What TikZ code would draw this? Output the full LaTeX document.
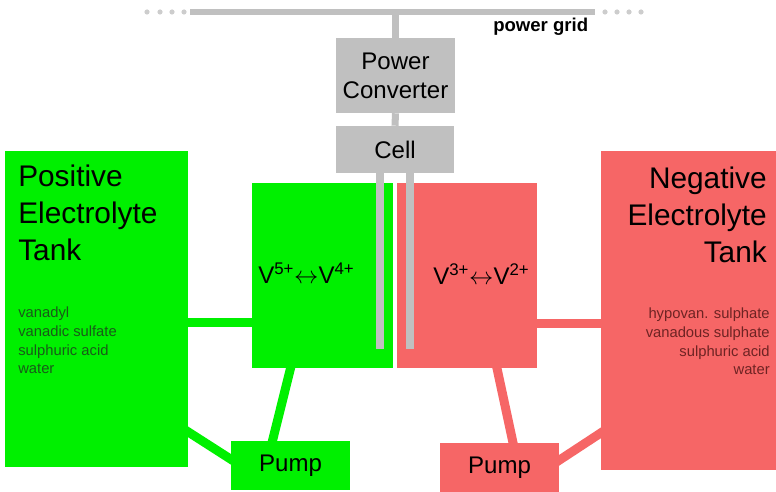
\documentclass[tikz,border=0pt]{standalone}
\usepackage{fontspec}
\setmainfont{Liberation Sans}
\usepackage{tikz}
\usetikzlibrary{backgrounds}

\definecolor{posgreen}{RGB}{0,240,0}
\definecolor{negred}{RGB}{246,102,102}
\definecolor{boxgray}{RGB}{192,192,192}
\definecolor{dotgray}{RGB}{205,205,205}
\definecolor{posdark}{RGB}{25,90,25}
\definecolor{negdark}{RGB}{110,35,35}

\begin{document}
\begin{tikzpicture}[
				x=0.025cm, y=-0.025cm,
				gray box/.style={
					fill=boxgray,
					inner sep=0pt,
					align=center,
					font=\fontsize{17.1}{20.6}\selectfont
				},
				pos box/.style={fill=posgreen, inner sep=0pt},
				neg box/.style={fill=negred, inner sep=0pt},
				pump box/.style={
					inner sep=0pt,
					minimum width=2.95cm,
					minimum height=1.225cm,
					font=\fontsize{17.1}{20.6}\selectfont
				},
				title text/.style={inner sep=0pt, font=\fontsize{21.2}{26.3}\selectfont},
				list text/.style={inner sep=0pt, font=\fontsize{10.5}{13.2}\selectfont},
				ion text/.style={inner sep=0pt, anchor=base west, font=\fontsize{17.1}{20.6}\selectfont},
				grid line/.style={draw=boxgray, line width=3.6pt},
				wire/.style={draw=boxgray, line width=5pt},
				electrode/.style={draw=boxgray, line width=5pt},
				pos pipe/.style={draw=posgreen, line width=6.4pt, line cap=rect},
				neg pipe/.style={draw=negred, line width=6.4pt, line cap=rect}
				]
				
				\useasboundingbox (0,0) rectangle (776,492);
				
				% grid, converter and cell
				\coordinate (gridL) at (190,12);
				\coordinate (gridR) at (595,12);
				\node[anchor=base west, inner sep=0pt, font=\bfseries\fontsize{13.2}{15}\selectfont] (gridlabel) at (493,32) {power grid};
				
				\node[gray box, minimum width=2.975cm, minimum height=1.875cm] (conv) at (395.5,75.5)
				{Power\\Converter};
				\node[gray box, minimum width=2.95cm, minimum height=1.175cm] (cell) at (395,149.5)
				{Cell};
				
				% half cells
				\node[pos box, minimum width=3.525cm, minimum height=4.625cm] (poshalf) at (322.5,275.5) {};
				\node[neg box, minimum width=3.5cm, minimum height=4.625cm] (neghalf) at (467,275.5) {};
				\node[ion text] (posion) at (258,283) {V\textsuperscript{5+}$\leftrightarrow$V\textsuperscript{4+}};
				\node[ion text] (negion) at (433,284) {V\textsuperscript{3+}$\leftrightarrow$V\textsuperscript{2+}};
				
				% tanks
				\node[pos box, minimum width=4.575cm, minimum height=7.9cm] (postank) at (96.5,309) {};
				\node[neg box, minimum width=4.375cm, minimum height=7.975cm] (negtank) at (688.5,310.5) {};
				\node[title text, anchor=north west, align=left] (postitle) at (18,165)
				{Positive\\Electrolyte\\Tank};
				\node[list text, anchor=north west, align=left, text=posdark] (poslist) at (18,307)
				{vanadyl\\vanadic sulfate\\sulphuric acid\\water};
				\node[title text, anchor=north east, align=right] (negtitle) at (767,167)
				{Negative\\Electrolyte\\Tank};
				\node[list text, anchor=north east, align=right, text=negdark] (neglist) at (770,308)
				{hypovan. sulphate\\vanadous sulphate\\sulphuric acid\\water};
				
				% pumps
				\node[pump box, fill=posgreen] (pospump) at (290.5,465.5) {Pump};
				\node[pump box, fill=negred] (negpump) at (499.5,467.5) {Pump};
				
				% electrodes
				\coordinate (posrod) at (380,349);
				\coordinate (negrod) at (410,349);
				\draw[electrode] (cell.south -| posrod) -- (posrod);
				\draw[electrode] (cell.south -| negrod) -- (negrod);
				
				\begin{scope}[on background layer]
					\draw[grid line] (gridL) -- (gridR);
					\foreach \dx in {147,160,172,184,605,617,629,641}
					\fill[dotgray] (\dx,12) circle (0.065cm);
					\draw[wire] (conv.north) -- (conv.north |- gridL);
					\draw[wire] (conv.south) -- (cell.north);
					
					\coordinate (pospipe) at ([shift={(0,13)}]postank.east);
					\draw[pos pipe] (pospipe) -- (pospipe -| poshalf.west);
					\draw[pos pipe] ([shift={(-32,0)}]poshalf.south) -- ([shift={(-18,0)}]pospump.north);
					\draw[pos pipe] ([shift={(0,123)}]postank.east) -- ([shift={(0,-6)}]pospump.west);
					
					\coordinate (negpipe) at ([shift={(0,12.5)}]negtank.west);
					\draw[neg pipe] (negpipe) -- (negpipe -| neghalf.east);
					\draw[neg pipe] ([shift={(30,0)}]neghalf.south) -- ([shift={(13.5,0)}]negpump.north);
					\draw[neg pipe] ([shift={(0,-7)}]negpump.east) -- ([shift={(0,122.5)}]negtank.west);
				\end{scope}
				
			\end{tikzpicture}
\end{document}
